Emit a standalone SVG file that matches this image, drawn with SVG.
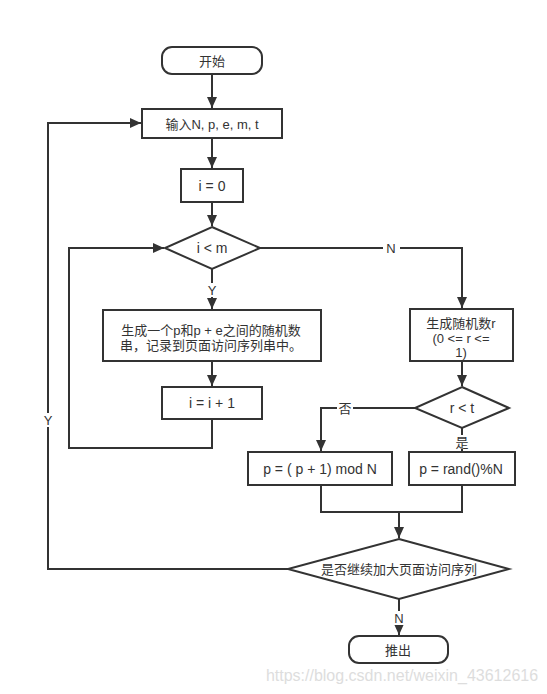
<svg xmlns="http://www.w3.org/2000/svg" width="547" height="694" viewBox="0 0 547 694">
<style>
.n{fill:#fff;stroke:#333;stroke-width:2}
.c{fill:none;stroke:#333;stroke-width:2}
.t{font-family:"Liberation Sans","Noto Sans CJK SC",sans-serif;font-size:13px;fill:#333;text-anchor:middle;dominant-baseline:central}
.l{font-size:14px}
.lb{fill:#fff;stroke:none}
</style>
<defs>
<marker id="ah" markerUnits="userSpaceOnUse" markerWidth="12" markerHeight="10" refX="11" refY="5" orient="auto">
<path d="M0,0 L11,5 L0,10 Z" fill="#333"/>
</marker>
</defs>
<rect width="547" height="694" fill="#fff"/>
<g id="connectors">
<path class="c" d="M212,74 V108" marker-end="url(#ah)"/>
<path class="c" d="M212,138 V168" marker-end="url(#ah)"/>
<path class="c" d="M212,202 V226" marker-end="url(#ah)"/>
<path class="c" d="M212,269 V309" marker-end="url(#ah)"/>
<path class="c" d="M212,361 V386" marker-end="url(#ah)"/>
<path class="c" d="M212,419 V448 H69 V248 H164" marker-end="url(#ah)"/>
<path class="c" d="M260,248 H462 V308" marker-end="url(#ah)"/>
<path class="c" d="M462,361 V386" marker-end="url(#ah)"/>
<path class="c" d="M415,408 H321 V451" marker-end="url(#ah)"/>
<path class="c" d="M462,428 V451" marker-end="url(#ah)"/>
<path class="c" d="M321,485 V512 H462 V485"/>
<path class="c" d="M399,512 V538" marker-end="url(#ah)"/>
<path class="c" d="M288,569 H48 V123 H141" marker-end="url(#ah)"/>
<path class="c" d="M399,599 V635" marker-end="url(#ah)"/>
<rect class="lb" x="383" y="241" width="17" height="14"/>
<text class="t" x="391" y="248">N</text>
<rect class="lb" x="206" y="283" width="12" height="14"/>
<text class="t" x="212" y="290">Y</text>
<rect class="lb" x="337" y="401" width="16" height="14"/>
<text class="t" x="345" y="408">否</text>
<rect class="lb" x="454" y="435" width="16" height="14"/>
<text class="t" x="462" y="442">是</text>
<rect class="lb" x="392" y="611" width="14" height="14"/>
<text class="t" x="399" y="618">N</text>
<rect class="lb" x="42" y="413" width="12" height="14"/>
<text class="t" x="48" y="420">Y</text>
</g>
<g id="start">
<rect class="n" x="162" y="47" width="100" height="27" rx="10"/>
<text class="t" x="212" y="61">开始</text>
</g>
<g id="input">
<rect class="n" x="142" y="109" width="140" height="29"/>
<text class="t" x="212" y="124">输入N, p, e, m, t</text>
</g>
<g id="init">
<rect class="n" x="181" y="169" width="62" height="33"/>
<text class="t l" x="212" y="186">i = 0</text>
</g>
<g id="cond-i">
<polygon class="n" points="212,227 260,248 212,269 165,248"/>
<text class="t l" x="212" y="248">i &lt; m</text>
</g>
<g id="gen">
<rect class="n" x="103" y="310" width="218" height="51"/>
<text class="t" x="211" y="330">生成一个p和p + e之间的随机数</text>
<text class="t" x="211" y="345">串，记录到页面访问序列串中。</text>
</g>
<g id="inc">
<rect class="n" x="162" y="387" width="100" height="32"/>
<text class="t l" x="212" y="403">i = i + 1</text>
</g>
<g id="rand-r">
<rect class="n" x="410" y="309" width="103" height="52"/>
<text class="t" x="461" y="323">生成随机数r</text>
<text class="t" x="461" y="338">(0  &lt;= r &lt;=</text>
<text class="t" x="461" y="352">1)</text>
</g>
<g id="cond-r">
<polygon class="n" points="462,387 509,408 462,428 415,408"/>
<text class="t l" x="462" y="408">r &lt; t</text>
</g>
<g id="p-next">
<rect class="n" x="248" y="452" width="144" height="33"/>
<text class="t l" x="320" y="469">p = ( p + 1) mod N</text>
</g>
<g id="p-rand">
<rect class="n" x="409" y="452" width="106" height="33"/>
<text class="t l" x="461" y="469">p = rand()%N</text>
</g>
<g id="cond-more">
<polygon class="n" points="399,539 509,569 399,599 288,569"/>
<text class="t" x="399" y="569">是否继续加大页面访问序列</text>
</g>
<g id="end">
<rect class="n" x="349" y="636" width="99" height="27" rx="10"/>
<text class="t" x="398" y="650">推出</text>
</g>
<text x="402" y="675" font-family="Liberation Sans,sans-serif" font-size="16" fill="#ddd" text-anchor="middle" dominant-baseline="central">https://blog.csdn.net/weixin_43612616</text>
</svg>
